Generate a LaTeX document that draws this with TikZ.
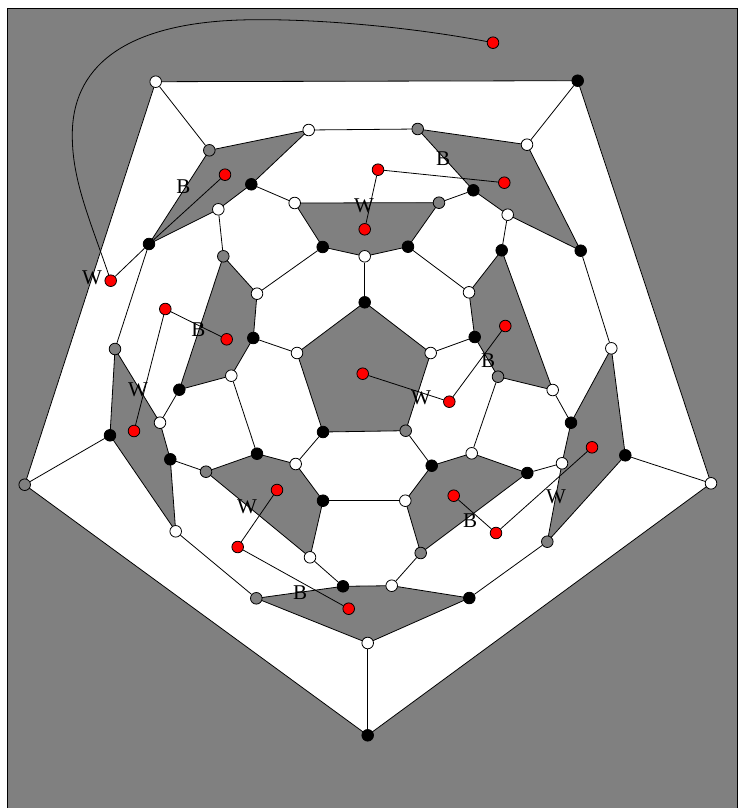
\documentclass[tikz,border=0pt]{standalone}
\usepackage{fontspec}
\setmainfont{Liberation Serif}
\definecolor{facegray}{RGB}{128,128,128}
\tikzset{
  vtx/.style={circle,draw=black,line width=0.8pt,minimum size=11.6pt,inner sep=0pt},
  wv/.style={vtx,fill=white},
  bv/.style={vtx,fill=black},
  gv/.style={vtx,fill=facegray},
  rv/.style={vtx,fill=red},
  face/.style={fill=facegray,draw=black,line width=0.8pt,line join=round},
  edge/.style={draw=black,line width=0.8pt},
  lab/.style={font=\fontsize{21pt}{21pt}\selectfont,inner sep=0pt,text=black}
}
\begin{document}
\begin{tikzpicture}[x=1pt,y=-1pt]
\useasboundingbox (0,0) rectangle (737,808);
% background and outer white pentagon
\fill[white] (0,0) rectangle (737,808);
\draw[fill=facegray,draw=black,line width=0.8pt] (7.5,808) -- (7.5,8) -- (737,8) -- (737,808) -- cycle;
\draw[fill=white,draw=black,line width=0.8pt,line join=round] (155.7,81.7) -- (577.7,80.7) -- (711,483.3) -- (367.7,735.3) -- (24.7,484.7) -- cycle;
% gray faces
\draw[face] (364.7,302.3) -- (430.7,353) -- (405.7,430.7) -- (323,432) -- (297,353) -- cycle;
\draw[face] (294.7,203) -- (439,202.7) -- (408,246.7) -- (364.7,256.3) -- (322.7,247) -- cycle;
\draw[face] (209.3,150.3) -- (308.7,130) -- (251.3,184.3) -- (218.3,209.3) -- (149,244) -- cycle;
\draw[face] (417.7,129) -- (527,144.7) -- (580.7,250.7) -- (507.7,214.7) -- (473.3,190.3) -- cycle;
\draw[face] (223.3,256.3) -- (257,293.7) -- (253.3,338) -- (231.3,375.7) -- (179.3,389.7) -- cycle;
\draw[face] (469,292.3) -- (501.7,250.3) -- (552.7,390) -- (498,376.7) -- (474.7,337) -- cycle;
\draw[face] (115,349) -- (160,422.7) -- (170.3,459.3) -- (175.7,531.3) -- (110,435.3) -- cycle;
\draw[face] (611.3,348.3) -- (625.3,455.3) -- (547.3,541.7) -- (562,463.3) -- (571,422.7) -- cycle;
\draw[face] (206,471.7) -- (257,453.7) -- (295.7,464) -- (323,500.7) -- (310,557.3) -- cycle;
\draw[face] (405.3,500.7) -- (431.7,465.7) -- (471.7,453.3) -- (527.3,473) -- (420.7,553) -- cycle;
\draw[face] (256.3,598.3) -- (343,586.3) -- (391.7,585.7) -- (469.3,598) -- (367.7,643) -- cycle;
% named vertices
\node[wv] (a1) at (155.7,81.7) {};
\node[bv] (a2) at (577.7,80.7) {};
\node[wv] (a3) at (711,483.3) {};
\node[bv] (a4) at (367.7,735.3) {};
\node[gv] (a5) at (24.7,484.7) {};
\node[gv] (b1) at (209.3,150.3) {};
\node[wv] (b2) at (308.7,130) {};
\node[gv] (b3) at (417.7,129) {};
\node[wv] (b4) at (527,144.7) {};
\node[bv] (b5) at (580.7,250.7) {};
\node[wv] (b6) at (611.3,348.3) {};
\node[bv] (b7) at (625.3,455.3) {};
\node[gv] (b8) at (547.3,541.7) {};
\node[bv] (b9) at (469.3,598) {};
\node[wv] (b10) at (367.7,643) {};
\node[gv] (b11) at (256.3,598.3) {};
\node[wv] (b12) at (175.7,531.3) {};
\node[bv] (b13) at (110,435.3) {};
\node[gv] (b14) at (115,349) {};
\node[bv] (b15) at (149,244) {};
\node[bv] (c1) at (251.3,184.3) {};
\node[wv] (c2) at (218.3,209.3) {};
\node[wv] (c3) at (294.7,203) {};
\node[gv] (c4) at (439,202.7) {};
\node[bv] (c5) at (473.3,190.3) {};
\node[wv] (c6) at (507.7,214.7) {};
\node[bv] (c7) at (501.7,250.3) {};
\node[gv] (c8) at (223.3,256.3) {};
\node[bv] (d1) at (322.7,247) {};
\node[wv] (d2) at (364.7,256.3) {};
\node[bv] (d3) at (408,246.7) {};
\node[wv] (d4) at (257,293.7) {};
\node[wv] (d5) at (469,292.3) {};
\node[bv] (e1) at (364.7,302.3) {};
\node[wv] (e2) at (430.7,353) {};
\node[gv] (e3) at (405.7,430.7) {};
\node[bv] (e4) at (323,432) {};
\node[wv] (e5) at (297,353) {};
\node[bv] (f1) at (253.3,338) {};
\node[bv] (f2) at (474.7,337) {};
\node[wv] (f3) at (231.3,375.7) {};
\node[bv] (f4) at (179.3,389.7) {};
\node[gv] (f5) at (498,376.7) {};
\node[wv] (f6) at (552.7,390) {};
\node[wv] (g1) at (160,422.7) {};
\node[bv] (g2) at (170.3,459.3) {};
\node[gv] (g3) at (206,471.7) {};
\node[bv] (g4) at (257,453.7) {};
\node[wv] (g5) at (295.7,464) {};
\node[bv] (g6) at (323,500.7) {};
\node[wv] (g7) at (310,557.3) {};
\node[wv] (h1) at (405.3,500.7) {};
\node[bv] (h2) at (431.7,465.7) {};
\node[wv] (h3) at (471.7,453.3) {};
\node[bv] (h4) at (527.3,473) {};
\node[wv] (h5) at (562,463.3) {};
\node[bv] (h6) at (571,422.7) {};
\node[gv] (h7) at (420.7,553) {};
\node[bv] (i1) at (343,586.3) {};
\node[wv] (i2) at (391.7,585.7) {};
% red vertices
\node[rv] (r1) at (493,42.7) {};
\node[rv] (r2) at (110.7,280.7) {};
\node[rv] (r3) at (225,174.7) {};
\node[rv] (r4) at (165.3,309) {};
\node[rv] (r5) at (226.7,339.3) {};
\node[rv] (r6) at (134,431) {};
\node[rv] (r7) at (378,169.7) {};
\node[rv] (r8) at (504.3,182.7) {};
\node[rv] (r9) at (364.7,229.3) {};
\node[rv] (r10) at (505.3,326) {};
\node[rv] (r11) at (449.3,401.7) {};
\node[rv] (r12) at (362.7,373.7) {};
\node[rv] (r13) at (592,447.3) {};
\node[rv] (r14) at (496,533) {};
\node[rv] (r15) at (453.7,495.7) {};
\node[rv] (r16) at (277,490) {};
\node[rv] (r17) at (237.7,547) {};
\node[rv] (r18) at (348.7,608.7) {};
% connectors
\foreach \p/\q in {a1/b1,a2/b4,a3/b7,a4/b10,a5/b13,b2/b3,c1/c3,c4/c5,c6/c7,c2/c8,b5/b6,b15/b14,d1/d4,d3/d5,d2/e1,f1/e5,e2/f2,f3/g4,f5/h3,f4/g1,f6/h6,e4/g5,e3/h2,g2/g3,h4/h5,g6/h1,b12/b11,g7/i1,i2/h7,b9/b8}
  \draw[edge] (\p) -- (\q);
\foreach \p/\q in {r2/b15,b15/r3,r4/r5,r4/r6,r7/r8,r7/r9,r10/r11,r11/r12,r13/r14,r14/r15,r16/r17,r17/r18}
  \draw[edge] (\p) -- (\q);
\draw[edge] (r1) .. controls (400,25) and (300,18) .. (240,20) .. controls (120,24) and (72,70) .. (72.3,135) .. controls (72,180) and (90,220) .. (r2);
% labels
\node[lab] (l1) at (183.5,187) {B};
\node[lab] (l2) at (92,278) {W};
\node[lab] (l3) at (198.5,330) {B};
\node[lab] (l4) at (138,390) {W};
\node[lab] (l5) at (364,206) {W};
\node[lab] (l6) at (443,159) {B};
\node[lab] (l7) at (488,361) {B};
\node[lab] (l8) at (421,398) {W};
\node[lab] (l9) at (556,497) {W};
\node[lab] (l10) at (470,521) {B};
\node[lab] (l11) at (247,507) {W};
\node[lab] (l12) at (300,593) {B};
\end{tikzpicture}
\end{document}
